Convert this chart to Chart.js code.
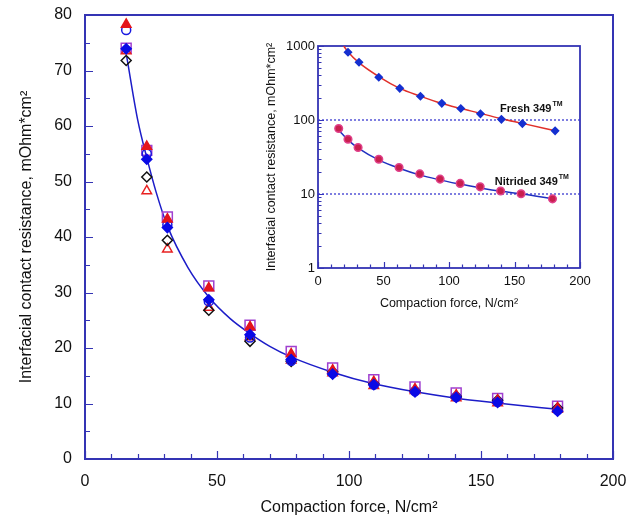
<!DOCTYPE html>
<html>
<head>
<meta charset="utf-8">
<script src="https://cdn.jsdelivr.net/npm/chart.js@4.4.1/dist/chart.umd.min.js"></script>
<style>
body { margin: 0; background: #fff; }
#wrap { position: relative; width: 634px; height: 519px; }
#main { position: absolute; left: 0; top: 0; }
#inset { position: absolute; left: 262px; top: 28px; background: #fff; }
</style>
</head>
<body>
<div id="wrap">
  <canvas id="main" width="634" height="519"></canvas>
  <canvas id="inset" width="330" height="290"></canvas>
</div>
<script>
// main chart data (N/cm2 vs mOhm*cm2)
var force = [15.6, 23.4, 31.2, 46.9, 62.5, 78.1, 93.8, 109.4, 125, 140.6, 156.3, 179];
var filledTri   = [78.3, 56.3, 43.2, 30.8, 23.8, 18.9, 16.0, 13.9, 12.6, 11.5, 10.6, 9.2];
var openCircle  = [77.3, 55.0, 42.2, 28.4, 21.9, 17.7, 15.5, 13.4, 12.2, 11.2, 10.3, 8.8];
var openSquare  = [74.0, 55.6, 43.6, 31.2, 24.1, 19.4, 16.4, 14.3, 13.0, 11.9, 10.9, 9.5];
var filledDiam  = [73.9, 54.0, 41.7, 28.7, 22.4, 17.9, 15.3, 13.4, 12.1, 11.1, 10.2, 8.6];
var openDiam    = [71.8, 50.8, 39.4, 26.8, 21.2, 17.6, 15.7, 13.6, 12.3, 11.3, 10.6, 9.2];
var openTri     = [73.5, 48.3, 37.8, 27.3, 22.0, 17.8, 15.5, 13.2, 12.3, 11.0, 10.1, 8.9];
// fitted curve
var fitX = [15.8, 20, 23.4, 27, 31.2, 39, 46.9, 55, 62.5, 70, 78, 94, 109, 125, 140, 156, 180];
var fitY = [72.5, 61, 54.3, 48, 42, 34.5, 29.2, 25.3, 22.6, 20.3, 18.4, 15.6, 13.6, 12.1, 11, 10.1, 8.9];

// inset data (log scale)
var freshX = [22.9, 31.3, 46.4, 62.4, 78.2, 94.5, 109, 124, 140, 156, 181];
var freshY = [822, 602, 378, 268, 209, 168, 143, 121, 102, 89.5, 71.3];
var freshFitX = [19.6, 23, 31, 47, 62, 78, 94, 109, 125, 140, 156, 182];
var freshFitY = [1000, 830, 600, 380, 270, 210, 168, 143, 122, 104, 90, 71];
var nitX = [15.8, 22.9, 30.6, 46.4, 61.9, 77.7, 93.2, 108.5, 123.8, 139.4, 155, 179];
var nitY = [76.6, 55, 42.4, 29.5, 22.8, 18.7, 15.9, 13.9, 12.5, 11.0, 10.1, 8.6];
var nitFitX = [15.8, 23, 31, 47, 62, 78, 94, 109, 125, 140, 156, 180];
var nitFitY = [73, 53.5, 41.5, 28.5, 22.3, 18, 15.4, 13.5, 12, 10.9, 10, 8.6];
var refLines = [100, 10];

// tick positions
var mainXMajor = [0, 50, 100, 150, 200];
var mainXMinor = [10, 20, 30, 40, 60, 70, 80, 90, 110, 120, 130, 140, 160, 170, 180, 190];
var mainYMajor = [0, 10, 20, 30, 40, 50, 60, 70, 80];
var mainYMinor = [5, 15, 25, 35, 45, 55, 65, 75];
var insetXMajor = [0, 50, 100, 150, 200];
var insetXMinor = [10, 20, 30, 40, 60, 70, 80, 90, 110, 120, 130, 140, 160, 170, 180, 190];
var insetYMajor = [1, 10, 100, 1000];
var insetYMinor = [2, 3, 4, 5, 6, 7, 8, 9, 20, 30, 40, 50, 60, 70, 80, 90, 200, 300, 400, 500, 600, 700, 800, 900];

var FONT = "'Liberation Sans', Arial, Helvetica, sans-serif";
var AXIS = '#3434b4';

function pts(xs, ys) {
    return xs.map(function(x, i) { return {x: x, y: ys[i]}; });
}

// kill the automatic label overflow padding, layout.padding decides
function sizeX(h) {
    return function(s) { s.height = h; s.paddingLeft = 0; s.paddingRight = 0; };
}
function sizeY(w) {
    return function(s) { s.width = w; s.paddingTop = 0; s.paddingBottom = 0; };
}

// frame + inward ticks on bottom and left
var frameTicks = {
    id: 'frameTicks',
    beforeDatasetsDraw: function(chart, args, o) {
        var ctx = chart.ctx, a = chart.chartArea, sx = chart.scales.x, sy = chart.scales.y;
        ctx.save();
        ctx.strokeStyle = AXIS;
        ctx.lineWidth = o.width;
        ctx.strokeRect(a.left, a.top, a.right - a.left, a.bottom - a.top);
        ctx.lineWidth = 1.2;
        ctx.beginPath();
        function xt(vals, len) {
            vals.forEach(function(v) { var p = Math.round(sx.getPixelForValue(v)) + 0.5; ctx.moveTo(p, a.bottom); ctx.lineTo(p, a.bottom - len); });
        }
        function yt(vals, len) {
            vals.forEach(function(v) { var p = Math.round(sy.getPixelForValue(v)) + 0.5; ctx.moveTo(a.left, p); ctx.lineTo(a.left + len, p); });
        }
        xt(o.xMajor, o.major); xt(o.xMinor, o.minor);
        yt(o.yMajor, o.major); yt(o.yMinor, o.minor);
        ctx.stroke();
        ctx.restore();
    }
};

// text notes with TM superscript
var notes = {
    id: 'notes',
    afterDatasetsDraw: function(chart, args, o) {
        if (!o.items) return;
        var ctx = chart.ctx;
        ctx.save();
        ctx.fillStyle = '#111';
        ctx.textBaseline = 'middle';
        o.items.forEach(function(n) {
            var px = chart.scales.x.getPixelForValue(n.x);
            var py = chart.scales.y.getPixelForValue(n.y);
            ctx.font = 'bold 11px ' + FONT;
            ctx.fillText(n.text, px, py);
            var w = ctx.measureText(n.text).width;
            ctx.font = 'bold 7px ' + FONT;
            ctx.fillText('TM', px + w + 1, py - 5);
        });
        ctx.restore();
    }
};

function marker(label, data, style, r, color, filled, order) {
    return {
        label: label,
        data: data,
        showLine: false,
        pointStyle: style,
        pointRadius: r,
        pointBorderWidth: 1.5,
        pointBorderColor: color,
        pointBackgroundColor: filled ? color : 'rgba(0,0,0,0)',
        order: order
    };
}

new Chart(document.getElementById('main').getContext('2d'), {
    type: 'line',
    data: {
        datasets: [
            marker('filled diamond', pts(force, filledDiam), 'rectRot', 5, '#0a0ae6', true, 0),
            marker('filled triangle', pts(force, filledTri), 'triangle', 5.5, '#e4141c', true, 1),
            marker('open circle', pts(force, openCircle), 'circle', 4.5, '#1a1ae0', false, 2),
            marker('open diamond', pts(force, openDiam), 'rectRot', 5, '#111111', false, 3),
            marker('open triangle', pts(force, openTri), 'triangle', 5.5, '#e82020', false, 4),
            marker('open square', pts(force, openSquare), 'rect', 7, '#a040d0', false, 5),
            {
                label: 'fit',
                data: pts(fitX, fitY),
                borderColor: '#1c1cc8',
                borderWidth: 1.5,
                pointRadius: 0,
                cubicInterpolationMode: 'monotone',
                order: 6
            }
        ]
    },
    options: {
        responsive: false,
        animation: false,
        layout: { padding: { left: 0, right: 21, top: 15, bottom: 0 } },
        plugins: {
            legend: { display: false },
            tooltip: { enabled: false },
            frameTicks: { width: 2, major: 8, minor: 5, xMajor: mainXMajor, xMinor: mainXMinor, yMajor: mainYMajor, yMinor: mainYMinor }
        },
        scales: {
            x: {
                type: 'linear', min: 0, max: 200,
                afterFit: sizeX(60),
                ticks: { stepSize: 50, color: '#111', padding: 13, font: { family: FONT, size: 16 } },
                grid: { display: false, drawTicks: false },
                border: { display: false },
                title: { display: true, text: 'Compaction force, N/cm²', color: '#111', padding: { top: 0, bottom: 2 }, font: { family: FONT, size: 16 } }
            },
            y: {
                min: 0, max: 80,
                afterFit: sizeY(85),
                ticks: { stepSize: 10, color: '#111', padding: 13, font: { family: FONT, size: 16 } },
                grid: { display: false, drawTicks: false },
                border: { display: false },
                title: { display: true, text: 'Interfacial contact resistance, mOhm*cm²', color: '#111', padding: { top: 17, bottom: 0 }, font: { family: FONT, size: 16 } }
            }
        }
    },
    plugins: [frameTicks]
});

new Chart(document.getElementById('inset').getContext('2d'), {
    type: 'line',
    data: {
        datasets: [
            marker('Fresh 349', pts(freshX, freshY), 'rectRot', 3.5, '#1530d0', true, 0),
            {
                label: 'Nitrided 349',
                data: pts(nitX, nitY),
                showLine: false,
                pointStyle: 'circle',
                pointRadius: 3.8,
                pointBorderWidth: 1.5,
                pointBorderColor: '#e0408a',
                pointBackgroundColor: '#c8204e',
                order: 1
            },
            {
                label: 'fresh fit', data: pts(freshFitX, freshFitY),
                borderColor: '#e0302a', borderWidth: 1.5, pointRadius: 0,
                cubicInterpolationMode: 'monotone', order: 2
            },
            {
                label: 'nitrided fit', data: pts(nitFitX, nitFitY),
                borderColor: '#2030c0', borderWidth: 1.5, pointRadius: 0,
                cubicInterpolationMode: 'monotone', order: 3
            },
            {
                label: 'ref 100', data: [{x: 0, y: refLines[0]}, {x: 200, y: refLines[0]}],
                borderColor: '#3a3ad0', borderWidth: 1.3, borderDash: [2, 2], pointRadius: 0, order: 4
            },
            {
                label: 'ref 10', data: [{x: 0, y: refLines[1]}, {x: 200, y: refLines[1]}],
                borderColor: '#3a3ad0', borderWidth: 1.3, borderDash: [2, 2], pointRadius: 0, order: 5
            }
        ]
    },
    options: {
        responsive: false,
        animation: false,
        layout: { padding: { left: 0, right: 12, top: 18, bottom: 0 } },
        plugins: {
            legend: { display: false },
            tooltip: { enabled: false },
            frameTicks: { width: 1.8, major: 6, minor: 3.5, xMajor: insetXMajor, xMinor: insetXMinor, yMajor: insetYMajor, yMinor: insetYMinor },
            notes: { items: [ { text: 'Fresh 349', x: 139, y: 141 }, { text: 'Nitrided 349', x: 135, y: 14.5 } ] }
        },
        scales: {
            x: {
                type: 'linear', min: 0, max: 200,
                afterFit: sizeX(50),
                ticks: { stepSize: 50, color: '#111', padding: 6, font: { family: FONT, size: 13 } },
                grid: { display: false, drawTicks: false },
                border: { display: false },
                title: { display: true, text: 'Compaction force, N/cm²', color: '#111', padding: { top: 0, bottom: 7 }, font: { family: FONT, size: 12.5 } }
            },
            y: {
                type: 'logarithmic', min: 1, max: 1000,
                afterBuildTicks: function(s) { s.ticks = insetYMajor.map(function(v) { return {value: v}; }); },
                afterFit: sizeY(56),
                ticks: { color: '#111', padding: 3, font: { family: FONT, size: 13 }, callback: function(v) { return String(v); } },
                grid: { display: false, drawTicks: false },
                border: { display: false },
                title: { display: true, text: 'Interfacial contact resistance, mOhm*cm²', color: '#111', padding: { top: 2, bottom: 0 }, font: { family: FONT, size: 12.5 } }
            }
        }
    },
    plugins: [frameTicks, notes]
});
</script>
</body>
</html>
